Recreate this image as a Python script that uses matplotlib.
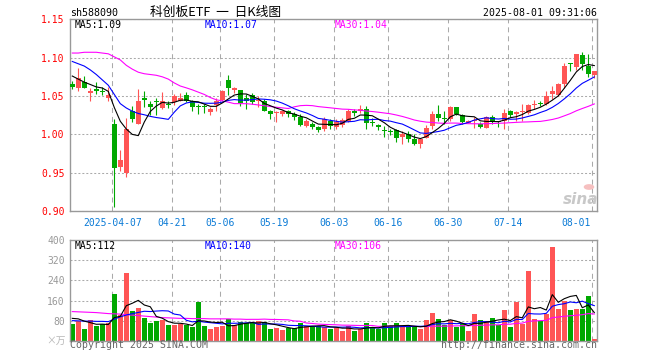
import numpy as np
import pandas as pd
import matplotlib
matplotlib.use("Agg")
import matplotlib.pyplot as plt
from matplotlib import transforms
from matplotlib.patches import Circle

# ---------------- data ----------------
opens = [1.065, 1.061, 1.068, 1.054, 1.059, 1.057, 1.048, 1.014, 0.957, 0.950,
         1.030, 1.014, 1.0475, 1.040, 1.044, 1.034, 1.039, 1.042, 1.044, 1.051,
         1.043, 1.036, 1.036, 1.029, 1.038, 1.045, 1.071, 1.058, 1.058, 1.047,
         1.051, 1.043, 1.044, 1.031, 1.0275, 1.026, 1.031, 1.0266, 1.023, 1.011,
         1.014, 1.0097, 1.0065, 1.018, 1.009, 1.0127, 1.017, 1.031, 1.031, 1.0335,
         1.0155, 1.0127, 1.0045, 1.0035, 1.005, 0.996, 1.000, 0.9944, 0.988, 0.9955,
         1.0115, 1.027, 1.021, 1.0196, 1.035, 1.0257, 1.0153, 1.017, 1.013, 1.0087,
         1.0227, 1.0165, 1.018, 1.031, 1.027, 1.029, 1.028, 1.0385, 1.0405, 1.040,
         1.052, 1.051, 1.066, 1.0936, 1.088, 1.103, 1.0888, 1.078]
highs = [1.070, 1.086, 1.076, 1.061, 1.068, 1.062, 1.062, 1.020, 0.980, 1.021,
         1.037, 1.059, 1.057, 1.044, 1.047, 1.055, 1.043, 1.052, 1.054, 1.055,
         1.045, 1.039, 1.039, 1.036, 1.047, 1.058, 1.078, 1.062, 1.058, 1.052,
         1.054, 1.050, 1.046, 1.032, 1.031, 1.032, 1.032, 1.029, 1.027, 1.020,
         1.016, 1.011, 1.023, 1.020, 1.020, 1.021, 1.033, 1.033, 1.038, 1.0365,
         1.021, 1.014, 1.011, 1.0075, 1.0075, 1.004, 1.0045, 1.000, 0.995, 1.012,
         1.030, 1.038, 1.031, 1.037, 1.036, 1.027, 1.019, 1.022, 1.016, 1.024,
         1.025, 1.018, 1.0336, 1.032, 1.031, 1.040, 1.039, 1.045, 1.043, 1.057,
         1.063, 1.067, 1.0936, 1.0936, 1.105, 1.1076, 1.105, 1.082]
lows = [1.059, 1.056, 1.060, 1.043, 1.053, 1.051, 1.043, 0.905, 0.952, 0.944,
        1.016, 1.013, 1.036, 1.025, 1.025, 1.0335, 1.034, 1.038, 1.043, 1.042,
        1.030, 1.027, 1.028, 1.025, 1.030, 1.044, 1.051, 1.054, 1.037, 1.033,
        1.040, 1.035, 1.030, 1.0205, 1.016, 1.024, 1.022, 1.019, 1.011, 1.009,
        1.007, 1.003, 1.004, 1.007, 1.007, 1.010, 1.016, 1.024, 1.028, 1.0074,
        1.011, 1.005, 0.9966, 0.9985, 0.9896, 0.9876, 0.9896, 0.9855, 0.9817, 0.995,
        1.0075, 1.018, 1.013, 1.018, 1.025, 1.014, 1.0145, 1.008, 1.008, 1.008,
        1.014, 1.009, 1.0074, 1.023, 1.018, 1.018, 1.027, 1.0335, 1.037, 1.038,
        1.0457, 1.050, 1.060, 1.082, 1.0836, 1.0836, 1.075, 1.074]
closes = [1.062, 1.073, 1.061, 1.056, 1.057, 1.055, 1.051, 0.956, 0.966, 1.0065,
          1.020, 1.043, 1.0445, 1.035, 1.042, 1.044, 1.038, 1.050, 1.048, 1.044,
          1.035, 1.035, 1.035, 1.0335, 1.044, 1.057, 1.061, 1.0605, 1.041, 1.0435,
          1.042, 1.044, 1.031, 1.026, 1.028, 1.030, 1.026, 1.022, 1.012, 1.018,
          1.009, 1.0057, 1.0205, 1.011, 1.016, 1.019, 1.031, 1.0274, 1.0326, 1.015,
          1.015, 1.009, 1.004, 1.003, 0.9957, 1.001, 0.9944, 0.9877, 0.9935, 1.0088,
          1.027, 1.0216, 1.0205, 1.036, 1.027, 1.016, 1.0175, 1.018, 1.0097, 1.0227,
          1.016, 1.016, 1.028, 1.0257, 1.029, 1.0305, 1.038, 1.039, 1.040, 1.0496,
          1.056, 1.066, 1.0888, 1.0914, 1.1045, 1.0914, 1.079, 1.082]
volumes = [65, 79, 45, 81, 57, 68, 71, 185, 104, 269,
           117, 129, 92, 69, 77, 81, 61, 61, 67, 61,
           53, 155, 57, 45, 53, 57, 85, 61, 73, 71,
           71, 77, 73, 45, 51, 43, 49, 52, 71, 60,
           57, 57, 55, 47, 52, 39, 57, 39, 47, 69,
           53, 48, 69, 57, 69, 57, 53, 53, 45, 81,
           109, 85, 61, 81, 53, 69, 37, 105, 81, 77,
           89, 61, 121, 53, 156, 65, 278, 85, 77, 105,
           373, 125, 157, 122, 125, 128, 180, 5]

# moving-average values before a full window exists
ma5_head = [1.076, 1.072, 1.068, 1.065]
ma10_head = [1.095, 1.092, 1.089, 1.084, 1.078, 1.071, 1.064, 1.052, 1.040]
ma30_head = [1.106, 1.106, 1.107, 1.107, 1.107, 1.106, 1.105, 1.101, 1.097, 1.090,
             1.085, 1.081, 1.079, 1.078, 1.077, 1.075, 1.072, 1.067, 1.063, 1.0606,
             1.058, 1.055, 1.052, 1.048, 1.045, 1.0436, 1.042, 1.040, 1.040]
vma5_head = [89, 87, 78, 72]
vma10_head = [80, 79, 78, 78, 77, 77, 76, 86, 95]
vma30_head = [116, 115, 114, 113, 112, 110, 108, 107, 106, 104,
              102, 100, 98, 96, 94, 92, 91, 90, 89, 89,
              88, 88, 88, 87, 87, 87, 87, 86, 86]

tick_idx = [7, 17, 25, 34, 44, 53, 63, 73, 87]
tick_labels = ["2025-04-07", "04-21", "05-06", "05-19", "06-03",
               "06-16", "06-30", "07-14", "08-01"]
price_ticks = [0.90, 0.95, 1.00, 1.05, 1.10, 1.15]
vol_ticks = [80, 160, 240, 320, 400]

# ---------------- helpers ----------------
def moving_avg(values, n, head):
    ma = pd.Series(values, dtype=float).rolling(n).mean().to_numpy()
    ma[:len(head)] = head
    return ma

o = np.array(opens); h = np.array(highs); l = np.array(lows); c = np.array(closes)
v = np.array(volumes, dtype=float)
x = np.arange(len(c))
ma5 = moving_avg(c, 5, ma5_head)
ma10 = moving_avg(c, 10, ma10_head)
ma30 = moving_avg(c, 30, ma30_head)
vma5 = moving_avg(v, 5, vma5_head)
vma10 = moving_avg(v, 10, vma10_head)
vma30 = moving_avg(v, 30, vma30_head)

RED = "#ff5555"
GREEN = "#00a800"
GRID = "#aaaaaa"
FRAME = "#999999"
MONO = "DejaVu Sans Mono"
CJK = ["Noto Sans CJK SC", "DejaVu Sans"]
colors = [RED if cc > oo else GREEN for oo, cc in zip(o, c)]

W, H = 660, 360
fig = plt.figure(figsize=(W / 100, H / 100), dpi=100)
fig.patch.set_facecolor("white")

def fx(px):
    return px / W

def fy(py):
    return 1 - py / H

L_PX, R_PX = 70.3, 597.3
ax = fig.add_axes([fx(L_PX), fy(211), fx(R_PX - L_PX), (211 - 19.3) / H])
axv = fig.add_axes([fx(L_PX), fy(340.7), fx(R_PX - L_PX), (340.7 - 240.3) / H])

XMIN, XMAX = -0.333, 87.5
TICK_SHIFT = -0.33

for a in (ax, axv):
    a.set_xlim(XMIN, XMAX)
    for s in a.spines.values():
        s.set_color(FRAME)
        s.set_linewidth(1.0)
    a.tick_params(length=0)
    for t in tick_idx:
        a.axvline(t + TICK_SHIFT, color=GRID, lw=0.75, ls=(0, (4.8, 3.8)), zorder=0)

# ---- price panel ----
ax.set_ylim(0.90, 1.15)
ax.set_yticks(price_ticks)
ax.set_yticklabels([f"{p:.2f}" for p in price_ticks], color="#ff0000",
                   fontsize=7, family=MONO)
ax.tick_params(axis="y", pad=4)
ax.yaxis.grid(True, color=GRID, lw=0.75, ls=(0, (1.9, 1.9)), zorder=0)
ax.set_axisbelow(True)

ax.vlines(x, l, h, colors=colors, lw=0.8, zorder=2)
body_lo = np.minimum(o, c)
body_h = np.maximum(np.abs(c - o), 0.0013)
ax.bar(x, body_h, bottom=body_lo, width=0.8, color=colors, linewidth=0, zorder=3)

ax.plot(x, ma30, color="#ff00ff", lw=0.8, zorder=4)
ax.plot(x, ma10, color="#0000ff", lw=0.8, zorder=4)
ax.plot(x, ma5, color="#000000", lw=0.8, zorder=4)

ax.set_xticks(np.array(tick_idx) + TICK_SHIFT)
ax.set_xticklabels(tick_labels, color="#0a7ad6", fontsize=7, family=MONO)
ax.tick_params(axis="x", pad=5)
last = ax.get_xticklabels()[-1]
last.set_ha("right")
last.set_transform(last.get_transform() + transforms.ScaledTranslation(-2 / 100, 0, fig.dpi_scale_trans))

# ---- volume panel ----
axv.set_ylim(0, 400)
axv.set_yticks(vol_ticks)
axv.set_yticklabels([str(t) for t in vol_ticks], color="#999999", fontsize=7, family=MONO)
axv.tick_params(axis="y", pad=4)
axv.set_xticks([])
axv.yaxis.grid(True, color=GRID, lw=0.75, ls=(0, (1.9, 1.9)), zorder=0)
axv.set_axisbelow(True)
axv.bar(x, v, width=0.8, color=colors, linewidth=0, zorder=2)
axv.plot(x, vma30, color="#ff00ff", lw=0.8, zorder=4)
axv.plot(x, vma10, color="#0000ff", lw=0.8, zorder=4)
axv.plot(x, vma5, color="#000000", lw=0.8, zorder=4)

# ---- texts ----
fig.text(fx(70), fy(13.5), "sh588090", fontsize=7.2, family=MONO, va="center", ha="left")
fig.text(fx(150), fy(12), "科创板ETF  一  日K线图", fontsize=9.2, family=CJK,
         va="center", ha="left")
fig.text(fx(597), fy(12.5), "2025-08-01 09:31:06", fontsize=7.1, family=MONO,
         va="center", ha="right")

fig.text(fx(74.5), fy(25.5), f"MA5:{ma5[-1]:.2f}", fontsize=7, family=MONO,
         color="#000000", va="center")
fig.text(fx(204.5), fy(25.5), f"MA10:{ma10[-1]:.2f}", fontsize=7, family=MONO,
         color="#0000ff", va="center")
fig.text(fx(334.5), fy(25.5), f"MA30:{ma30[-1]:.2f}", fontsize=7, family=MONO,
         color="#ff00ff", va="center")

fig.text(fx(74.5), fy(246), f"MA5:{vma5[-1]:.0f}", fontsize=7, family=MONO,
         color="#000000", va="center")
fig.text(fx(204.5), fy(246), f"MA10:{vma10[-1]:.0f}", fontsize=7, family=MONO,
         color="#0000ff", va="center")
fig.text(fx(334.5), fy(246), f"MA30:{vma30[-1]:.0f}", fontsize=7, family=MONO,
         color="#ff00ff", va="center")

fig.text(fx(66), fy(341), "×万", fontsize=7, family=CJK, color="#b8b8b8",
         va="center", ha="right")
fig.text(fx(70), fy(345.5), "Copyright 2025 SINA.COM", fontsize=7.1, family=MONO,
         color="#666666", va="center", ha="left")
fig.text(fx(597), fy(345.5), "http://finance.sina.com.cn", fontsize=7.1, family=MONO,
         color="#666666", va="center", ha="right")

# sina watermark
fig.text(fx(581), fy(199), "sina", fontsize=11, family="DejaVu Sans", style="italic",
         weight="bold", color="#c8c8c8", va="center", ha="center")
fig.add_artist(Circle((fx(589), fy(187)), 0.008, transform=fig.transFigure,
                      facecolor="#f6c0c0", edgecolor="none"))

fig.savefig("out.png", dpi=100, facecolor="white")
